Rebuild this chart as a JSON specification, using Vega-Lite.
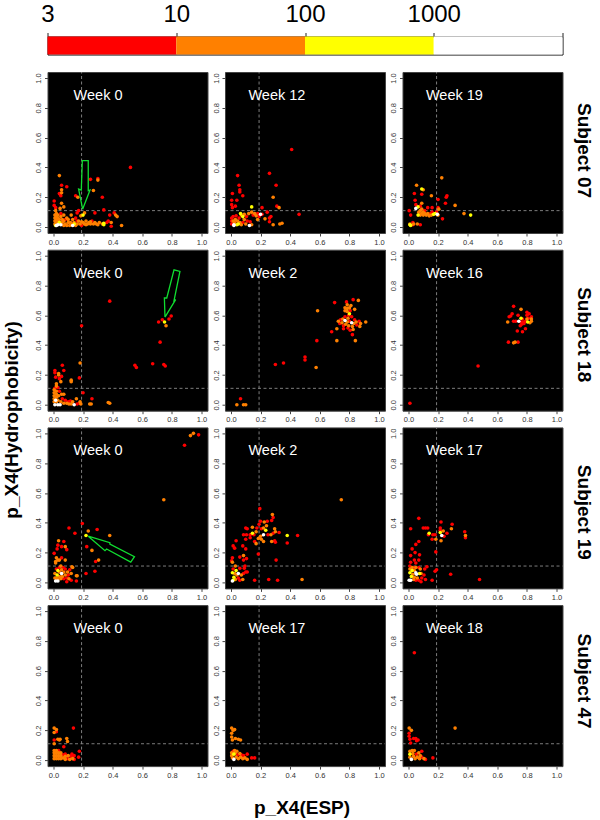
{"$schema":"https://vega.github.io/schema/vega-lite/v6.json","background":"white","padding":{"left":1.5,"top":1.5,"right":0,"bottom":0},"bounds":"flush","spacing":17.5,
"config":{"view":{"fill":"black","stroke":"#444","strokeWidth":1},"axis":{"grid":false,"domain":false,"tickSize":3,"tickColor":"#444","labelColor":"#333","labelFont":"Liberation Sans","labelFontSize":7.5,"labelPadding":2,"labelFlush":false,"labelOverlap":false},"text":{"font":"Liberation Sans"}},
"datasets":{
"guides":[{"x":0.19,"y":-0.04,"g":"v"},{"x":0.19,"y":1.04,"g":"v"},{"x":-0.04,"y":0.11,"g":"h"},{"x":1.04,"y":0.11,"g":"h"}],
"a1":[{"x":0.52,"y":0.4,"c":1},{"x":0.25,"y":0.32,"c":1},{"x":0.3,"y":0.325,"c":1},{"x":0.3,"y":0.315,"c":2},{"x":0.04,"y":0.345,"c":2},{"x":0.055,"y":0.28,"c":1},{"x":0.09,"y":0.27,"c":1},{"x":0.055,"y":0.25,"c":2},{"x":0.055,"y":0.23,"c":2},{"x":0.04,"y":0.225,"c":1},{"x":0.05,"y":0.21,"c":1},{"x":0.045,"y":0.22,"c":1},{"x":0.15,"y":0.21,"c":1},{"x":0.165,"y":0.2,"c":2},{"x":0.27,"y":0.245,"c":2},{"x":0.33,"y":0.2,"c":1},{"x":0.005,"y":0.175,"c":1},{"x":0.005,"y":0.145,"c":1},{"x":0.015,"y":0.13,"c":1},{"x":0.055,"y":0.16,"c":2},{"x":0.045,"y":0.125,"c":2},{"x":0.07,"y":0.135,"c":2},{"x":0.015,"y":0.11,"c":2},{"x":0.34,"y":0.115,"c":1},{"x":0.41,"y":0.095,"c":1},{"x":0.42,"y":0.08,"c":2},{"x":0.43,"y":0.07,"c":2},{"x":0.38,"y":0.08,"c":1},{"x":0.37,"y":0.04,"c":1},{"x":0.36,"y":0.03,"c":1},{"x":0.39,"y":0.03,"c":2},{"x":0.39,"y":0.005,"c":1},{"x":0.46,"y":0.01,"c":2},{"x":0.28,"y":0.095,"c":1},{"x":0.17,"y":0.11,"c":1},{"x":0.16,"y":0.095,"c":1},{"x":0.2,"y":0.08,"c":3},{"x":0.21,"y":0.095,"c":2},{"x":0.185,"y":0.075,"c":2},{"x":0.01,"y":0.02,"c":2},{"x":0.01,"y":0.04,"c":2},{"x":0.01,"y":0.06,"c":2},{"x":0.01,"y":0.08,"c":2},{"x":0.02,"y":0.03,"c":2},{"x":0.02,"y":0.05,"c":2},{"x":0.02,"y":0.07,"c":2},{"x":0.02,"y":0.09,"c":2},{"x":0.03,"y":0.02,"c":2},{"x":0.03,"y":0.04,"c":2},{"x":0.03,"y":0.06,"c":2},{"x":0.03,"y":0.08,"c":2},{"x":0.04,"y":0.03,"c":2},{"x":0.04,"y":0.05,"c":2},{"x":0.05,"y":0.02,"c":2},{"x":0.05,"y":0.07,"c":2},{"x":0.05,"y":0.09,"c":1},{"x":0.06,"y":0.03,"c":2},{"x":0.06,"y":0.05,"c":2},{"x":0.07,"y":0.08,"c":2},{"x":0.07,"y":0.01,"c":2},{"x":0.08,"y":0.02,"c":2},{"x":0.08,"y":0.05,"c":1},{"x":0.09,"y":0.06,"c":2},{"x":0.09,"y":0.01,"c":2},{"x":0.1,"y":0.03,"c":2},{"x":0.11,"y":0.01,"c":2},{"x":0.12,"y":0.08,"c":2},{"x":0.13,"y":0.02,"c":1},{"x":0.13,"y":0.05,"c":2},{"x":0.14,"y":0.03,"c":2},{"x":0.15,"y":0.01,"c":2},{"x":0.15,"y":0.06,"c":1},{"x":0.16,"y":0.02,"c":2},{"x":0.17,"y":0.04,"c":2},{"x":0.18,"y":0.02,"c":2},{"x":0.19,"y":0.01,"c":1},{"x":0.2,"y":0.03,"c":2},{"x":0.21,"y":0.02,"c":2},{"x":0.22,"y":0.04,"c":2},{"x":0.23,"y":0.02,"c":2},{"x":0.24,"y":0.03,"c":2},{"x":0.25,"y":0.02,"c":2},{"x":0.26,"y":0.04,"c":1},{"x":0.27,"y":0.02,"c":2},{"x":0.28,"y":0.03,"c":2},{"x":0.29,"y":0.02,"c":2},{"x":0.31,"y":0.03,"c":2},{"x":0.33,"y":0.02,"c":2},{"x":0.34,"y":0.015,"c":3},{"x":0.34,"y":0.025,"c":3},{"x":0.015,"y":0.01,"c":3},{"x":0.03,"y":0.015,"c":4},{"x":0.02,"y":0.01,"c":4},{"x":0.05,"y":0.015,"c":4},{"x":0.13,"y":0.01,"c":4},{"x":0.04,"y":0.03,"c":3},{"x":0.14,"y":0.02,"c":3},{"x":0.07,"y":0.04,"c":2},{"x":0.1,"y":0.05,"c":2},{"x":0.115,"y":0.03,"c":2},{"x":0.12,"y":0.015,"c":2},{"x":0.16,"y":0.04,"c":1},{"x":0.19,"y":0.035,"c":2},{"x":0.22,"y":0.015,"c":2},{"x":0.25,"y":0.035,"c":2},{"x":0.3,"y":0.015,"c":2}],
"a2":[{"x":0.41,"y":0.52,"c":1},{"x":0.045,"y":0.345,"c":1},{"x":0.26,"y":0.36,"c":1},{"x":0.305,"y":0.28,"c":1},{"x":0.055,"y":0.28,"c":1},{"x":0.06,"y":0.25,"c":1},{"x":0.06,"y":0.235,"c":1},{"x":0.01,"y":0.225,"c":1},{"x":0.08,"y":0.21,"c":1},{"x":0.04,"y":0.18,"c":1},{"x":0.005,"y":0.18,"c":1},{"x":0.005,"y":0.15,"c":1},{"x":0.01,"y":0.13,"c":1},{"x":0.03,"y":0.14,"c":1},{"x":0.285,"y":0.2,"c":2},{"x":0.31,"y":0.14,"c":1},{"x":0.325,"y":0.13,"c":2},{"x":0.46,"y":0.085,"c":1},{"x":0.21,"y":0.13,"c":1},{"x":0.14,"y":0.135,"c":3},{"x":0.245,"y":0.1,"c":1},{"x":0.2,"y":0.085,"c":4},{"x":0.065,"y":0.09,"c":3},{"x":0.08,"y":0.07,"c":3},{"x":0.07,"y":0.08,"c":2},{"x":0.23,"y":0.055,"c":2},{"x":0.26,"y":0.06,"c":1},{"x":0.27,"y":0.07,"c":1},{"x":0.26,"y":0.035,"c":1},{"x":0.285,"y":0.015,"c":2},{"x":0.33,"y":0.02,"c":2},{"x":0.345,"y":0.025,"c":2},{"x":0.125,"y":0.01,"c":4},{"x":0.02,"y":0.01,"c":4},{"x":0.02,"y":0.015,"c":4},{"x":0.04,"y":0.015,"c":3},{"x":0.05,"y":0.02,"c":3},{"x":0.005,"y":0.02,"c":1},{"x":0.005,"y":0.04,"c":1},{"x":0.005,"y":0.06,"c":1},{"x":0.015,"y":0.04,"c":2},{"x":0.015,"y":0.07,"c":1},{"x":0.025,"y":0.03,"c":2},{"x":0.03,"y":0.05,"c":2},{"x":0.035,"y":0.075,"c":1},{"x":0.045,"y":0.04,"c":2},{"x":0.055,"y":0.06,"c":1},{"x":0.06,"y":0.03,"c":2},{"x":0.07,"y":0.015,"c":2},{"x":0.08,"y":0.03,"c":1},{"x":0.09,"y":0.05,"c":2},{"x":0.09,"y":0.085,"c":2},{"x":0.1,"y":0.02,"c":2},{"x":0.105,"y":0.07,"c":1},{"x":0.11,"y":0.04,"c":1},{"x":0.12,"y":0.09,"c":2},{"x":0.13,"y":0.035,"c":1},{"x":0.14,"y":0.015,"c":2},{"x":0.14,"y":0.1,"c":2},{"x":0.15,"y":0.08,"c":1},{"x":0.16,"y":0.09,"c":2},{"x":0.17,"y":0.075,"c":2},{"x":0.18,"y":0.09,"c":1},{"x":0.18,"y":0.05,"c":2},{"x":0.19,"y":0.07,"c":1},{"x":0.21,"y":0.085,"c":1}],
"a3":[{"x":0.225,"y":0.33,"c":2},{"x":0.055,"y":0.28,"c":2},{"x":0.09,"y":0.255,"c":3},{"x":0.1,"y":0.25,"c":2},{"x":0.04,"y":0.225,"c":1},{"x":0.09,"y":0.22,"c":1},{"x":0.155,"y":0.21,"c":2},{"x":0.26,"y":0.21,"c":1},{"x":0.255,"y":0.2,"c":1},{"x":0.045,"y":0.18,"c":1},{"x":0.2,"y":0.185,"c":1},{"x":0.09,"y":0.16,"c":2},{"x":0.05,"y":0.15,"c":1},{"x":0.25,"y":0.16,"c":1},{"x":0.315,"y":0.145,"c":2},{"x":0.08,"y":0.14,"c":1},{"x":0.05,"y":0.125,"c":4},{"x":0.065,"y":0.135,"c":3},{"x":0.13,"y":0.13,"c":1},{"x":0.16,"y":0.13,"c":1},{"x":0.2,"y":0.13,"c":1},{"x":0.205,"y":0.12,"c":2},{"x":0.375,"y":0.09,"c":2},{"x":0.42,"y":0.08,"c":3},{"x":0.195,"y":0.085,"c":4},{"x":0.23,"y":0.055,"c":1},{"x":0.005,"y":0.11,"c":1},{"x":0.015,"y":0.08,"c":1},{"x":0.065,"y":0.08,"c":3},{"x":0.18,"y":0.09,"c":3},{"x":0.17,"y":0.085,"c":3},{"x":0.01,"y":0.015,"c":3},{"x":0.015,"y":0.01,"c":3},{"x":0.01,"y":0.02,"c":2},{"x":0.03,"y":0.03,"c":1},{"x":0.035,"y":0.02,"c":2},{"x":0.06,"y":0.02,"c":2},{"x":0.08,"y":0.015,"c":1},{"x":0.03,"y":0.015,"c":1},{"x":0.07,"y":0.1,"c":2},{"x":0.08,"y":0.08,"c":2},{"x":0.08,"y":0.11,"c":2},{"x":0.09,"y":0.09,"c":2},{"x":0.09,"y":0.12,"c":2},{"x":0.1,"y":0.08,"c":2},{"x":0.1,"y":0.1,"c":2},{"x":0.11,"y":0.09,"c":2},{"x":0.11,"y":0.11,"c":1},{"x":0.12,"y":0.08,"c":2},{"x":0.13,"y":0.09,"c":2},{"x":0.14,"y":0.075,"c":2},{"x":0.15,"y":0.09,"c":1},{"x":0.155,"y":0.08,"c":2},{"x":0.16,"y":0.1,"c":1},{"x":0.19,"y":0.1,"c":1},{"x":0.2,"y":0.08,"c":2}],
"b1":[{"x":0.38,"y":0.695,"c":1},{"x":0.19,"y":0.53,"c":1},{"x":0.795,"y":0.595,"c":1},{"x":0.78,"y":0.575,"c":1},{"x":0.735,"y":0.57,"c":1},{"x":0.71,"y":0.555,"c":1},{"x":0.75,"y":0.555,"c":3},{"x":0.76,"y":0.53,"c":2},{"x":0.72,"y":0.42,"c":1},{"x":0.55,"y":0.265,"c":1},{"x":0.56,"y":0.25,"c":1},{"x":0.67,"y":0.275,"c":1},{"x":0.745,"y":0.27,"c":1},{"x":0.755,"y":0.26,"c":1},{"x":0.18,"y":0.28,"c":2},{"x":0.06,"y":0.265,"c":1},{"x":0.07,"y":0.23,"c":1},{"x":0.01,"y":0.23,"c":1},{"x":0.01,"y":0.215,"c":1},{"x":0.035,"y":0.21,"c":2},{"x":0.035,"y":0.2,"c":2},{"x":0.015,"y":0.185,"c":1},{"x":0.04,"y":0.175,"c":1},{"x":0.055,"y":0.19,"c":1},{"x":0.175,"y":0.18,"c":1},{"x":0.12,"y":0.165,"c":2},{"x":0.12,"y":0.155,"c":2},{"x":0.05,"y":0.155,"c":2},{"x":0.02,"y":0.14,"c":2},{"x":0.02,"y":0.125,"c":2},{"x":0.2,"y":0.08,"c":1},{"x":0.01,"y":0.11,"c":1},{"x":0.03,"y":0.115,"c":1},{"x":0.26,"y":0.04,"c":1},{"x":0.255,"y":0.005,"c":2},{"x":0.245,"y":0.005,"c":2},{"x":0.37,"y":0.015,"c":2},{"x":0.38,"y":0.01,"c":2},{"x":0.005,"y":0.02,"c":2},{"x":0.005,"y":0.04,"c":2},{"x":0.005,"y":0.06,"c":2},{"x":0.005,"y":0.08,"c":2},{"x":0.005,"y":0.1,"c":2},{"x":0.02,"y":0.02,"c":2},{"x":0.02,"y":0.05,"c":2},{"x":0.02,"y":0.07,"c":2},{"x":0.02,"y":0.09,"c":2},{"x":0.03,"y":0.03,"c":2},{"x":0.035,"y":0.06,"c":2},{"x":0.04,"y":0.09,"c":1},{"x":0.05,"y":0.02,"c":2},{"x":0.055,"y":0.07,"c":2},{"x":0.06,"y":0.04,"c":1},{"x":0.07,"y":0.01,"c":2},{"x":0.07,"y":0.07,"c":2},{"x":0.08,"y":0.03,"c":1},{"x":0.09,"y":0.01,"c":2},{"x":0.1,"y":0.02,"c":1},{"x":0.105,"y":0.005,"c":2},{"x":0.115,"y":0.025,"c":1},{"x":0.12,"y":0.005,"c":2},{"x":0.13,"y":0.02,"c":2},{"x":0.155,"y":0.04,"c":2},{"x":0.16,"y":0.005,"c":1},{"x":0.175,"y":0.01,"c":1},{"x":0.18,"y":0.02,"c":2},{"x":0.185,"y":0.005,"c":2},{"x":0.01,"y":0.0,"c":4},{"x":0.03,"y":0.0,"c":4},{"x":0.045,"y":0.0,"c":4},{"x":0.14,"y":0.0,"c":4},{"x":0.015,"y":0.03,"c":4}],
"b2":[{"x":0.04,"y":0.0,"c":2},{"x":0.065,"y":0.04,"c":1},{"x":0.085,"y":0.0,"c":2},{"x":0.1,"y":0.0,"c":2},{"x":0.3,"y":0.27,"c":1},{"x":0.355,"y":0.28,"c":1},{"x":0.5,"y":0.32,"c":1},{"x":0.5,"y":0.3,"c":1},{"x":0.575,"y":0.25,"c":2},{"x":0.58,"y":0.43,"c":1},{"x":0.585,"y":0.63,"c":2},{"x":0.715,"y":0.43,"c":2},{"x":0.715,"y":0.51,"c":2},{"x":0.68,"y":0.49,"c":1},{"x":0.7,"y":0.685,"c":1},{"x":0.825,"y":0.705,"c":1},{"x":0.86,"y":0.7,"c":2},{"x":0.84,"y":0.43,"c":2},{"x":0.82,"y":0.47,"c":1},{"x":0.91,"y":0.555,"c":2},{"x":0.78,"y":0.69,"c":1},{"x":0.785,"y":0.67,"c":2},{"x":0.81,"y":0.665,"c":2},{"x":0.77,"y":0.65,"c":2},{"x":0.785,"y":0.645,"c":2},{"x":0.8,"y":0.65,"c":2},{"x":0.835,"y":0.64,"c":2},{"x":0.77,"y":0.63,"c":2},{"x":0.785,"y":0.625,"c":2},{"x":0.805,"y":0.63,"c":1},{"x":0.795,"y":0.6,"c":1},{"x":0.8,"y":0.61,"c":3},{"x":0.815,"y":0.59,"c":1},{"x":0.77,"y":0.59,"c":1},{"x":0.79,"y":0.58,"c":2},{"x":0.74,"y":0.57,"c":1},{"x":0.725,"y":0.56,"c":2},{"x":0.735,"y":0.545,"c":1},{"x":0.75,"y":0.55,"c":2},{"x":0.755,"y":0.575,"c":2},{"x":0.76,"y":0.53,"c":1},{"x":0.775,"y":0.54,"c":2},{"x":0.785,"y":0.555,"c":2},{"x":0.795,"y":0.53,"c":2},{"x":0.8,"y":0.56,"c":1},{"x":0.805,"y":0.5,"c":1},{"x":0.79,"y":0.515,"c":1},{"x":0.82,"y":0.525,"c":2},{"x":0.825,"y":0.505,"c":2},{"x":0.835,"y":0.57,"c":1},{"x":0.83,"y":0.545,"c":2},{"x":0.845,"y":0.555,"c":2},{"x":0.85,"y":0.535,"c":1},{"x":0.865,"y":0.56,"c":1},{"x":0.875,"y":0.545,"c":2},{"x":0.87,"y":0.525,"c":2},{"x":0.76,"y":0.51,"c":1},{"x":0.77,"y":0.565,"c":4},{"x":0.815,"y":0.55,"c":4}],
"b3":[{"x":0.01,"y":0.01,"c":1},{"x":0.47,"y":0.26,"c":1},{"x":0.71,"y":0.66,"c":1},{"x":0.76,"y":0.64,"c":2},{"x":0.68,"y":0.59,"c":1},{"x":0.69,"y":0.595,"c":1},{"x":0.7,"y":0.61,"c":1},{"x":0.74,"y":0.6,"c":1},{"x":0.8,"y":0.62,"c":1},{"x":0.815,"y":0.61,"c":1},{"x":0.8,"y":0.6,"c":1},{"x":0.67,"y":0.555,"c":2},{"x":0.71,"y":0.56,"c":1},{"x":0.725,"y":0.56,"c":1},{"x":0.745,"y":0.56,"c":4},{"x":0.76,"y":0.58,"c":3},{"x":0.77,"y":0.575,"c":1},{"x":0.775,"y":0.555,"c":1},{"x":0.765,"y":0.54,"c":1},{"x":0.755,"y":0.53,"c":1},{"x":0.78,"y":0.545,"c":1},{"x":0.805,"y":0.555,"c":3},{"x":0.8,"y":0.575,"c":2},{"x":0.81,"y":0.58,"c":1},{"x":0.83,"y":0.59,"c":1},{"x":0.83,"y":0.575,"c":2},{"x":0.83,"y":0.56,"c":2},{"x":0.82,"y":0.55,"c":2},{"x":0.79,"y":0.51,"c":1},{"x":0.77,"y":0.49,"c":1},{"x":0.735,"y":0.495,"c":1},{"x":0.675,"y":0.42,"c":1},{"x":0.71,"y":0.415,"c":2},{"x":0.72,"y":0.42,"c":2},{"x":0.74,"y":0.42,"c":1},{"x":0.79,"y":0.56,"c":1},{"x":0.76,"y":0.555,"c":1}],
"c1":[{"x":0.885,"y":0.92,"c":1},{"x":0.925,"y":0.985,"c":2},{"x":0.945,"y":1.0,"c":2},{"x":0.98,"y":0.99,"c":1},{"x":0.745,"y":0.555,"c":2},{"x":0.195,"y":0.395,"c":1},{"x":0.105,"y":0.365,"c":1},{"x":0.295,"y":0.355,"c":1},{"x":0.145,"y":0.33,"c":1},{"x":0.235,"y":0.345,"c":2},{"x":0.38,"y":0.315,"c":2},{"x":0.22,"y":0.315,"c":3},{"x":0.035,"y":0.28,"c":2},{"x":0.07,"y":0.275,"c":1},{"x":0.03,"y":0.25,"c":1},{"x":0.055,"y":0.24,"c":1},{"x":0.08,"y":0.24,"c":2},{"x":0.025,"y":0.225,"c":1},{"x":0.09,"y":0.22,"c":1},{"x":0.225,"y":0.24,"c":1},{"x":0.26,"y":0.215,"c":2},{"x":0.005,"y":0.195,"c":1},{"x":0.03,"y":0.15,"c":2},{"x":0.02,"y":0.165,"c":2},{"x":0.015,"y":0.14,"c":2},{"x":0.015,"y":0.13,"c":2},{"x":0.08,"y":0.15,"c":2},{"x":0.055,"y":0.165,"c":1},{"x":0.04,"y":0.15,"c":2},{"x":0.305,"y":0.15,"c":2},{"x":0.285,"y":0.14,"c":1},{"x":0.125,"y":0.105,"c":2},{"x":0.13,"y":0.1,"c":2},{"x":0.28,"y":0.075,"c":1},{"x":0.22,"y":0.06,"c":1},{"x":0.155,"y":0.045,"c":2},{"x":0.16,"y":0.045,"c":2},{"x":0.12,"y":0.015,"c":1},{"x":0.155,"y":0.01,"c":1},{"x":0.01,"y":0.03,"c":2},{"x":0.01,"y":0.06,"c":2},{"x":0.02,"y":0.09,"c":1},{"x":0.02,"y":0.03,"c":2},{"x":0.03,"y":0.08,"c":3},{"x":0.025,"y":0.05,"c":3},{"x":0.03,"y":0.02,"c":2},{"x":0.04,"y":0.1,"c":1},{"x":0.04,"y":0.07,"c":2},{"x":0.04,"y":0.04,"c":2},{"x":0.05,"y":0.025,"c":2},{"x":0.05,"y":0.11,"c":2},{"x":0.055,"y":0.085,"c":2},{"x":0.06,"y":0.04,"c":2},{"x":0.065,"y":0.1,"c":1},{"x":0.07,"y":0.07,"c":2},{"x":0.07,"y":0.025,"c":1},{"x":0.08,"y":0.05,"c":2},{"x":0.08,"y":0.09,"c":1},{"x":0.09,"y":0.03,"c":1},{"x":0.09,"y":0.005,"c":1},{"x":0.095,"y":0.07,"c":2},{"x":0.1,"y":0.05,"c":1},{"x":0.105,"y":0.025,"c":2},{"x":0.11,"y":0.085,"c":1},{"x":0.12,"y":0.06,"c":2},{"x":0.015,"y":0.01,"c":4},{"x":0.03,"y":0.01,"c":4},{"x":0.055,"y":0.06,"c":4}],
"c2":[{"x":0.745,"y":0.555,"c":2},{"x":0.195,"y":0.495,"c":1},{"x":0.28,"y":0.455,"c":2},{"x":0.285,"y":0.435,"c":1},{"x":0.2,"y":0.41,"c":1},{"x":0.225,"y":0.405,"c":2},{"x":0.245,"y":0.41,"c":1},{"x":0.275,"y":0.415,"c":1},{"x":0.19,"y":0.39,"c":1},{"x":0.24,"y":0.38,"c":2},{"x":0.22,"y":0.365,"c":2},{"x":0.205,"y":0.36,"c":1},{"x":0.1,"y":0.365,"c":1},{"x":0.11,"y":0.36,"c":1},{"x":0.145,"y":0.37,"c":2},{"x":0.175,"y":0.365,"c":1},{"x":0.295,"y":0.36,"c":2},{"x":0.3,"y":0.34,"c":2},{"x":0.325,"y":0.335,"c":1},{"x":0.235,"y":0.35,"c":3},{"x":0.145,"y":0.33,"c":3},{"x":0.17,"y":0.34,"c":2},{"x":0.155,"y":0.32,"c":1},{"x":0.13,"y":0.32,"c":1},{"x":0.13,"y":0.3,"c":1},{"x":0.085,"y":0.32,"c":1},{"x":0.105,"y":0.32,"c":1},{"x":0.035,"y":0.28,"c":1},{"x":0.1,"y":0.29,"c":1},{"x":0.22,"y":0.32,"c":4},{"x":0.2,"y":0.31,"c":2},{"x":0.185,"y":0.295,"c":2},{"x":0.205,"y":0.29,"c":2},{"x":0.22,"y":0.275,"c":2},{"x":0.17,"y":0.26,"c":2},{"x":0.16,"y":0.275,"c":1},{"x":0.25,"y":0.32,"c":1},{"x":0.27,"y":0.32,"c":2},{"x":0.285,"y":0.33,"c":1},{"x":0.275,"y":0.275,"c":2},{"x":0.295,"y":0.28,"c":1},{"x":0.3,"y":0.27,"c":1},{"x":0.38,"y":0.315,"c":3},{"x":0.45,"y":0.315,"c":1},{"x":0.38,"y":0.265,"c":1},{"x":0.305,"y":0.15,"c":1},{"x":0.185,"y":0.19,"c":1},{"x":0.015,"y":0.245,"c":1},{"x":0.025,"y":0.23,"c":1},{"x":0.08,"y":0.245,"c":1},{"x":0.1,"y":0.225,"c":1},{"x":0.085,"y":0.18,"c":2},{"x":0.06,"y":0.17,"c":1},{"x":0.105,"y":0.16,"c":1},{"x":0.085,"y":0.15,"c":1},{"x":0.01,"y":0.165,"c":1},{"x":0.005,"y":0.145,"c":1},{"x":0.01,"y":0.135,"c":2},{"x":0.095,"y":0.11,"c":1},{"x":0.06,"y":0.095,"c":1},{"x":0.09,"y":0.095,"c":1},{"x":0.03,"y":0.11,"c":2},{"x":0.015,"y":0.09,"c":1},{"x":0.035,"y":0.08,"c":3},{"x":0.01,"y":0.065,"c":3},{"x":0.025,"y":0.06,"c":2},{"x":0.04,"y":0.05,"c":2},{"x":0.02,"y":0.035,"c":3},{"x":0.015,"y":0.015,"c":3},{"x":0.03,"y":0.02,"c":2},{"x":0.01,"y":0.01,"c":4},{"x":0.05,"y":0.06,"c":4},{"x":0.05,"y":0.03,"c":1},{"x":0.06,"y":0.015,"c":1},{"x":0.07,"y":0.05,"c":2},{"x":0.08,"y":0.02,"c":2},{"x":0.085,"y":0.06,"c":1},{"x":0.1,"y":0.07,"c":1},{"x":0.11,"y":0.07,"c":1},{"x":0.16,"y":0.015,"c":1},{"x":0.255,"y":0.02,"c":1},{"x":0.315,"y":0.015,"c":1},{"x":0.48,"y":0.02,"c":2}],
"c3":[{"x":0.07,"y":0.43,"c":1},{"x":0.015,"y":0.36,"c":1},{"x":0.22,"y":0.405,"c":1},{"x":0.295,"y":0.39,"c":1},{"x":0.1,"y":0.365,"c":1},{"x":0.115,"y":0.365,"c":1},{"x":0.13,"y":0.365,"c":1},{"x":0.215,"y":0.365,"c":1},{"x":0.215,"y":0.35,"c":1},{"x":0.235,"y":0.345,"c":2},{"x":0.29,"y":0.36,"c":2},{"x":0.38,"y":0.34,"c":1},{"x":0.385,"y":0.315,"c":2},{"x":0.385,"y":0.3,"c":1},{"x":0.14,"y":0.33,"c":3},{"x":0.135,"y":0.32,"c":1},{"x":0.215,"y":0.335,"c":3},{"x":0.225,"y":0.315,"c":4},{"x":0.24,"y":0.31,"c":1},{"x":0.26,"y":0.33,"c":1},{"x":0.165,"y":0.32,"c":1},{"x":0.18,"y":0.32,"c":1},{"x":0.16,"y":0.29,"c":1},{"x":0.185,"y":0.29,"c":2},{"x":0.22,"y":0.28,"c":2},{"x":0.07,"y":0.275,"c":1},{"x":0.05,"y":0.255,"c":1},{"x":0.025,"y":0.225,"c":1},{"x":0.045,"y":0.2,"c":1},{"x":0.185,"y":0.205,"c":1},{"x":0.075,"y":0.185,"c":1},{"x":0.015,"y":0.18,"c":1},{"x":0.07,"y":0.15,"c":1},{"x":0.04,"y":0.15,"c":1},{"x":0.015,"y":0.135,"c":1},{"x":0.05,"y":0.13,"c":1},{"x":0.125,"y":0.105,"c":1},{"x":0.19,"y":0.085,"c":1},{"x":0.18,"y":0.075,"c":1},{"x":0.285,"y":0.055,"c":1},{"x":0.48,"y":0.02,"c":1},{"x":0.11,"y":0.09,"c":1},{"x":0.105,"y":0.05,"c":1},{"x":0.115,"y":0.02,"c":1},{"x":0.16,"y":0.015,"c":1},{"x":0.01,"y":0.11,"c":1},{"x":0.01,"y":0.09,"c":2},{"x":0.01,"y":0.065,"c":3},{"x":0.025,"y":0.1,"c":2},{"x":0.025,"y":0.08,"c":3},{"x":0.03,"y":0.055,"c":2},{"x":0.02,"y":0.04,"c":3},{"x":0.04,"y":0.1,"c":1},{"x":0.04,"y":0.08,"c":2},{"x":0.04,"y":0.035,"c":2},{"x":0.035,"y":0.02,"c":2},{"x":0.05,"y":0.1,"c":2},{"x":0.05,"y":0.015,"c":1},{"x":0.06,"y":0.03,"c":2},{"x":0.07,"y":0.1,"c":1},{"x":0.075,"y":0.06,"c":3},{"x":0.085,"y":0.06,"c":2},{"x":0.08,"y":0.09,"c":2},{"x":0.07,"y":0.015,"c":1},{"x":0.085,"y":0.005,"c":1},{"x":0.09,"y":0.03,"c":1},{"x":0.015,"y":0.015,"c":4},{"x":0.005,"y":0.015,"c":4},{"x":0.05,"y":0.065,"c":4},{"x":0.055,"y":0.055,"c":4}],
"d1":[{"x":0.005,"y":0.215,"c":2},{"x":0.02,"y":0.205,"c":2},{"x":0.02,"y":0.19,"c":1},{"x":0.135,"y":0.215,"c":1},{"x":0.005,"y":0.185,"c":2},{"x":0.03,"y":0.14,"c":2},{"x":0.04,"y":0.135,"c":2},{"x":0.045,"y":0.14,"c":2},{"x":0.09,"y":0.145,"c":2},{"x":0.095,"y":0.125,"c":2},{"x":0.005,"y":0.135,"c":1},{"x":0.005,"y":0.11,"c":2},{"x":0.07,"y":0.09,"c":1},{"x":0.175,"y":0.06,"c":1},{"x":0.17,"y":0.02,"c":1},{"x":0.005,"y":0.01,"c":2},{"x":0.005,"y":0.03,"c":2},{"x":0.005,"y":0.05,"c":2},{"x":0.005,"y":0.065,"c":2},{"x":0.02,"y":0.01,"c":2},{"x":0.02,"y":0.03,"c":2},{"x":0.02,"y":0.05,"c":2},{"x":0.02,"y":0.065,"c":2},{"x":0.035,"y":0.01,"c":2},{"x":0.035,"y":0.03,"c":2},{"x":0.035,"y":0.05,"c":2},{"x":0.035,"y":0.065,"c":1},{"x":0.05,"y":0.01,"c":2},{"x":0.05,"y":0.03,"c":2},{"x":0.05,"y":0.05,"c":2},{"x":0.065,"y":0.015,"c":2},{"x":0.065,"y":0.035,"c":1},{"x":0.08,"y":0.005,"c":2},{"x":0.08,"y":0.025,"c":2},{"x":0.08,"y":0.04,"c":1},{"x":0.095,"y":0.01,"c":1},{"x":0.1,"y":0.03,"c":2},{"x":0.11,"y":0.005,"c":2},{"x":0.12,"y":0.025,"c":1},{"x":0.125,"y":0.04,"c":1},{"x":0.13,"y":0.01,"c":2},{"x":0.14,"y":0.03,"c":1},{"x":0.14,"y":0.005,"c":1}],
"d2":[{"x":0.005,"y":0.215,"c":2},{"x":0.015,"y":0.2,"c":2},{"x":0.025,"y":0.205,"c":2},{"x":0.005,"y":0.18,"c":2},{"x":0.005,"y":0.155,"c":2},{"x":0.01,"y":0.135,"c":2},{"x":0.03,"y":0.145,"c":2},{"x":0.05,"y":0.14,"c":2},{"x":0.065,"y":0.135,"c":2},{"x":0.16,"y":0.015,"c":1},{"x":0.14,"y":0.015,"c":1},{"x":0.11,"y":0.04,"c":1},{"x":0.11,"y":0.005,"c":2},{"x":0.005,"y":0.03,"c":2},{"x":0.005,"y":0.05,"c":2},{"x":0.015,"y":0.06,"c":1},{"x":0.02,"y":0.04,"c":3},{"x":0.025,"y":0.065,"c":2},{"x":0.03,"y":0.05,"c":2},{"x":0.035,"y":0.02,"c":2},{"x":0.04,"y":0.06,"c":2},{"x":0.045,"y":0.035,"c":1},{"x":0.05,"y":0.01,"c":2},{"x":0.06,"y":0.045,"c":2},{"x":0.065,"y":0.02,"c":2},{"x":0.07,"y":0.035,"c":1},{"x":0.08,"y":0.01,"c":2},{"x":0.085,"y":0.03,"c":1},{"x":0.095,"y":0.015,"c":2},{"x":0.01,"y":0.015,"c":2},{"x":0.02,"y":0.005,"c":4}],
"d3":[{"x":0.04,"y":0.72,"c":1},{"x":0.315,"y":0.215,"c":2},{"x":0.005,"y":0.215,"c":2},{"x":0.02,"y":0.2,"c":2},{"x":0.005,"y":0.18,"c":1},{"x":0.005,"y":0.16,"c":1},{"x":0.01,"y":0.14,"c":1},{"x":0.015,"y":0.115,"c":1},{"x":0.035,"y":0.145,"c":1},{"x":0.05,"y":0.145,"c":1},{"x":0.055,"y":0.13,"c":1},{"x":0.065,"y":0.135,"c":1},{"x":0.165,"y":0.015,"c":1},{"x":0.09,"y":0.06,"c":1},{"x":0.08,"y":0.03,"c":2},{"x":0.105,"y":0.01,"c":2},{"x":0.115,"y":0.005,"c":1},{"x":0.01,"y":0.06,"c":2},{"x":0.01,"y":0.04,"c":3},{"x":0.01,"y":0.02,"c":2},{"x":0.025,"y":0.065,"c":2},{"x":0.03,"y":0.045,"c":2},{"x":0.035,"y":0.025,"c":2},{"x":0.04,"y":0.065,"c":2},{"x":0.045,"y":0.01,"c":2},{"x":0.055,"y":0.04,"c":1},{"x":0.06,"y":0.02,"c":2},{"x":0.07,"y":0.05,"c":2},{"x":0.075,"y":0.01,"c":2},{"x":0.09,"y":0.02,"c":1},{"x":0.02,"y":0.005,"c":4}]
},
"vconcat":[
{"width":515,"height":18,"view":{"fill":null,"stroke":"black"},"data":{"values":[{"lo":0,"hi":1,"c":1},{"lo":1,"hi":2,"c":2},{"lo":2,"hi":3,"c":3},{"lo":3,"hi":4,"c":4}]},"mark":"rect","encoding":{"x":{"field":"lo","type":"quantitative","title":null,"scale":{"domain":[0,4],"nice":false},"axis":{"orient":"top","values":[0,1,2,3,4],"labelExpr":"datum.value==0?'3':datum.value==1?'10':datum.value==2?'100':datum.value==3?'1000':''","tickSize":4,"tickColor":"#222","labelColor":"black","labelFontSize":24,"labelPadding":6}},"x2":{"field":"hi"},"color":{"field":"c","type":"nominal","scale":{"domain":[1,2,3,4],"range":["#ff0000","#ff8000","#ffff00","#ffffff"]},"legend":null}}},
{"columns":3,"bounds":"flush","spacing":{"row":16.7,"column":17.5},"resolve":{"scale":{"color":"independent"}},"concat":[
{"width":160,"height":161,"encoding":{"x":{"field":"x","type":"quantitative","title":null,"scale":{"domain":[-0.04,1.04],"nice":false},"axis":{"values":[0,0.2,0.4,0.6,0.8,1],"format":".1f"}},"y":{"field":"y","type":"quantitative","title":null,"scale":{"domain":[-0.04,1.04],"nice":false},"axis":{"values":[0,0.2,0.4,0.6,0.8,1],"format":".1f","labelAngle":-90,"labelAlign":"center","labelBaseline":"bottom"}}},"layer":[
{"data":{"name":"guides"},"mark":{"type":"line","stroke":"#8a8a8a","strokeWidth":0.9,"strokeDash":[3,2.5]},"encoding":{"detail":{"field":"g"}}},
{"data":{"name":"a1"},"mark":{"type":"circle","size":13,"opacity":1},"encoding":{"order":{"field":"c"},"color":{"field":"c","type":"nominal","scale":{"domain":[1,2,3,4],"range":["#ff0000","#ff8000","#ffff00","#ffffff"]},"legend":null}}},
{"data":{"values":[{"x":0.197,"y":0.12,"o":0},{"x":0.247,"y":0.248,"o":1},{"x":0.235,"y":0.244,"o":2},{"x":0.235,"y":0.445,"o":3},{"x":0.195,"y":0.445,"o":4},{"x":0.188,"y":0.248,"o":5},{"x":0.17,"y":0.255,"o":6},{"x":0.197,"y":0.12,"o":7}]},"mark":{"type":"line","stroke":"#10dd30","strokeWidth":1.3},"encoding":{"order":{"field":"o"}}},
{"data":{"values":[{"x":0.136,"y":0.88,"t":"Week 0"}]},"mark":{"type":"text","align":"left","baseline":"middle","fontSize":14.5,"color":"white"},"encoding":{"text":{"field":"t"}}}]},
{"width":160,"height":161,"encoding":{"x":{"field":"x","type":"quantitative","title":null,"scale":{"domain":[-0.04,1.04],"nice":false},"axis":{"values":[0,0.2,0.4,0.6,0.8,1],"format":".1f"}},"y":{"field":"y","type":"quantitative","title":null,"scale":{"domain":[-0.04,1.04],"nice":false},"axis":{"values":[0,0.2,0.4,0.6,0.8,1],"format":".1f","labelAngle":-90,"labelAlign":"center","labelBaseline":"bottom"}}},"layer":[
{"data":{"name":"guides"},"mark":{"type":"line","stroke":"#8a8a8a","strokeWidth":0.9,"strokeDash":[3,2.5]},"encoding":{"detail":{"field":"g"}}},
{"data":{"name":"a2"},"mark":{"type":"circle","size":13,"opacity":1},"encoding":{"order":{"field":"c"},"color":{"field":"c","type":"nominal","scale":{"domain":[1,2,3,4],"range":["#ff0000","#ff8000","#ffff00","#ffffff"]},"legend":null}}},
{"data":{"values":[{"x":0.118,"y":0.88,"t":"Week 12"}]},"mark":{"type":"text","align":"left","baseline":"middle","fontSize":14.5,"color":"white"},"encoding":{"text":{"field":"t"}}}]},
{"width":160,"height":161,"encoding":{"x":{"field":"x","type":"quantitative","title":null,"scale":{"domain":[-0.04,1.04],"nice":false},"axis":{"values":[0,0.2,0.4,0.6,0.8,1],"format":".1f"}},"y":{"field":"y","type":"quantitative","title":null,"scale":{"domain":[-0.04,1.04],"nice":false},"axis":{"values":[0,0.2,0.4,0.6,0.8,1],"format":".1f","labelAngle":-90,"labelAlign":"center","labelBaseline":"bottom"}}},"layer":[
{"data":{"name":"guides"},"mark":{"type":"line","stroke":"#8a8a8a","strokeWidth":0.9,"strokeDash":[3,2.5]},"encoding":{"detail":{"field":"g"}}},
{"data":{"name":"a3"},"mark":{"type":"circle","size":13,"opacity":1},"encoding":{"order":{"field":"c"},"color":{"field":"c","type":"nominal","scale":{"domain":[1,2,3,4],"range":["#ff0000","#ff8000","#ffff00","#ffffff"]},"legend":null}}},
{"data":{"values":[{"x":0.118,"y":0.88,"t":"Week 19"}]},"mark":{"type":"text","align":"left","baseline":"middle","fontSize":14.5,"color":"white"},"encoding":{"text":{"field":"t"}}},
{"data":{"values":[{"x":1.183,"y":0.513,"t":"Subject 07"}]},"mark":{"type":"text","angle":90,"align":"center","baseline":"middle","fontSize":19,"fontWeight":"bold","color":"black"},"encoding":{"text":{"field":"t"}}}]},
{"width":160,"height":161,"encoding":{"x":{"field":"x","type":"quantitative","title":null,"scale":{"domain":[-0.04,1.04],"nice":false},"axis":{"values":[0,0.2,0.4,0.6,0.8,1],"format":".1f"}},"y":{"field":"y","type":"quantitative","title":null,"scale":{"domain":[-0.04,1.04],"nice":false},"axis":{"values":[0,0.2,0.4,0.6,0.8,1],"format":".1f","labelAngle":-90,"labelAlign":"center","labelBaseline":"bottom"}}},"layer":[
{"data":{"name":"guides"},"mark":{"type":"line","stroke":"#8a8a8a","strokeWidth":0.9,"strokeDash":[3,2.5]},"encoding":{"detail":{"field":"g"}}},
{"data":{"name":"b1"},"mark":{"type":"circle","size":13,"opacity":1},"encoding":{"order":{"field":"c"},"color":{"field":"c","type":"nominal","scale":{"domain":[1,2,3,4],"range":["#ff0000","#ff8000","#ffff00","#ffffff"]},"legend":null}}},
{"data":{"values":[{"x":0.753,"y":0.588,"o":0},{"x":0.825,"y":0.705,"o":1},{"x":0.814,"y":0.698,"o":2},{"x":0.854,"y":0.894,"o":3},{"x":0.814,"y":0.905,"o":4},{"x":0.765,"y":0.716,"o":5},{"x":0.749,"y":0.716,"o":6},{"x":0.753,"y":0.588,"o":7}]},"mark":{"type":"line","stroke":"#10dd30","strokeWidth":1.3},"encoding":{"order":{"field":"o"}}},
{"data":{"values":[{"x":0.136,"y":0.88,"t":"Week 0"}]},"mark":{"type":"text","align":"left","baseline":"middle","fontSize":14.5,"color":"white"},"encoding":{"text":{"field":"t"}}},
{"data":{"values":[{"x":-0.283,"y":-0.102,"t":"p_X4(Hydrophobicity)"}]},"mark":{"type":"text","angle":270,"align":"center","baseline":"middle","fontSize":19,"fontWeight":"bold","color":"black"},"encoding":{"text":{"field":"t"}}}]},
{"width":160,"height":161,"encoding":{"x":{"field":"x","type":"quantitative","title":null,"scale":{"domain":[-0.04,1.04],"nice":false},"axis":{"values":[0,0.2,0.4,0.6,0.8,1],"format":".1f"}},"y":{"field":"y","type":"quantitative","title":null,"scale":{"domain":[-0.04,1.04],"nice":false},"axis":{"values":[0,0.2,0.4,0.6,0.8,1],"format":".1f","labelAngle":-90,"labelAlign":"center","labelBaseline":"bottom"}}},"layer":[
{"data":{"name":"guides"},"mark":{"type":"line","stroke":"#8a8a8a","strokeWidth":0.9,"strokeDash":[3,2.5]},"encoding":{"detail":{"field":"g"}}},
{"data":{"name":"b2"},"mark":{"type":"circle","size":13,"opacity":1},"encoding":{"order":{"field":"c"},"color":{"field":"c","type":"nominal","scale":{"domain":[1,2,3,4],"range":["#ff0000","#ff8000","#ffff00","#ffffff"]},"legend":null}}},
{"data":{"values":[{"x":0.118,"y":0.88,"t":"Week 2"}]},"mark":{"type":"text","align":"left","baseline":"middle","fontSize":14.5,"color":"white"},"encoding":{"text":{"field":"t"}}}]},
{"width":160,"height":161,"encoding":{"x":{"field":"x","type":"quantitative","title":null,"scale":{"domain":[-0.04,1.04],"nice":false},"axis":{"values":[0,0.2,0.4,0.6,0.8,1],"format":".1f"}},"y":{"field":"y","type":"quantitative","title":null,"scale":{"domain":[-0.04,1.04],"nice":false},"axis":{"values":[0,0.2,0.4,0.6,0.8,1],"format":".1f","labelAngle":-90,"labelAlign":"center","labelBaseline":"bottom"}}},"layer":[
{"data":{"name":"guides"},"mark":{"type":"line","stroke":"#8a8a8a","strokeWidth":0.9,"strokeDash":[3,2.5]},"encoding":{"detail":{"field":"g"}}},
{"data":{"name":"b3"},"mark":{"type":"circle","size":13,"opacity":1},"encoding":{"order":{"field":"c"},"color":{"field":"c","type":"nominal","scale":{"domain":[1,2,3,4],"range":["#ff0000","#ff8000","#ffff00","#ffffff"]},"legend":null}}},
{"data":{"values":[{"x":0.118,"y":0.88,"t":"Week 16"}]},"mark":{"type":"text","align":"left","baseline":"middle","fontSize":14.5,"color":"white"},"encoding":{"text":{"field":"t"}}},
{"data":{"values":[{"x":1.183,"y":0.47,"t":"Subject 18"}]},"mark":{"type":"text","angle":90,"align":"center","baseline":"middle","fontSize":19,"fontWeight":"bold","color":"black"},"encoding":{"text":{"field":"t"}}}]},
{"width":160,"height":161,"encoding":{"x":{"field":"x","type":"quantitative","title":null,"scale":{"domain":[-0.04,1.04],"nice":false},"axis":{"values":[0,0.2,0.4,0.6,0.8,1],"format":".1f"}},"y":{"field":"y","type":"quantitative","title":null,"scale":{"domain":[-0.04,1.04],"nice":false},"axis":{"values":[0,0.2,0.4,0.6,0.8,1],"format":".1f","labelAngle":-90,"labelAlign":"center","labelBaseline":"bottom"}}},"layer":[
{"data":{"name":"guides"},"mark":{"type":"line","stroke":"#8a8a8a","strokeWidth":0.9,"strokeDash":[3,2.5]},"encoding":{"detail":{"field":"g"}}},
{"data":{"name":"c1"},"mark":{"type":"circle","size":13,"opacity":1},"encoding":{"order":{"field":"c"},"color":{"field":"c","type":"nominal","scale":{"domain":[1,2,3,4],"range":["#ff0000","#ff8000","#ffff00","#ffffff"]},"legend":null}}},
{"data":{"values":[{"x":0.235,"y":0.31,"o":0},{"x":0.381,"y":0.267,"o":1},{"x":0.381,"y":0.257,"o":2},{"x":0.547,"y":0.173,"o":3},{"x":0.522,"y":0.136,"o":4},{"x":0.359,"y":0.224,"o":5},{"x":0.348,"y":0.213,"o":6},{"x":0.235,"y":0.31,"o":7}]},"mark":{"type":"line","stroke":"#10dd30","strokeWidth":1.3},"encoding":{"order":{"field":"o"}}},
{"data":{"values":[{"x":0.136,"y":0.88,"t":"Week 0"}]},"mark":{"type":"text","align":"left","baseline":"middle","fontSize":14.5,"color":"white"},"encoding":{"text":{"field":"t"}}}]},
{"width":160,"height":161,"encoding":{"x":{"field":"x","type":"quantitative","title":null,"scale":{"domain":[-0.04,1.04],"nice":false},"axis":{"values":[0,0.2,0.4,0.6,0.8,1],"format":".1f"}},"y":{"field":"y","type":"quantitative","title":null,"scale":{"domain":[-0.04,1.04],"nice":false},"axis":{"values":[0,0.2,0.4,0.6,0.8,1],"format":".1f","labelAngle":-90,"labelAlign":"center","labelBaseline":"bottom"}}},"layer":[
{"data":{"name":"guides"},"mark":{"type":"line","stroke":"#8a8a8a","strokeWidth":0.9,"strokeDash":[3,2.5]},"encoding":{"detail":{"field":"g"}}},
{"data":{"name":"c2"},"mark":{"type":"circle","size":13,"opacity":1},"encoding":{"order":{"field":"c"},"color":{"field":"c","type":"nominal","scale":{"domain":[1,2,3,4],"range":["#ff0000","#ff8000","#ffff00","#ffffff"]},"legend":null}}},
{"data":{"values":[{"x":0.118,"y":0.88,"t":"Week 2"}]},"mark":{"type":"text","align":"left","baseline":"middle","fontSize":14.5,"color":"white"},"encoding":{"text":{"field":"t"}}}]},
{"width":160,"height":161,"encoding":{"x":{"field":"x","type":"quantitative","title":null,"scale":{"domain":[-0.04,1.04],"nice":false},"axis":{"values":[0,0.2,0.4,0.6,0.8,1],"format":".1f"}},"y":{"field":"y","type":"quantitative","title":null,"scale":{"domain":[-0.04,1.04],"nice":false},"axis":{"values":[0,0.2,0.4,0.6,0.8,1],"format":".1f","labelAngle":-90,"labelAlign":"center","labelBaseline":"bottom"}}},"layer":[
{"data":{"name":"guides"},"mark":{"type":"line","stroke":"#8a8a8a","strokeWidth":0.9,"strokeDash":[3,2.5]},"encoding":{"detail":{"field":"g"}}},
{"data":{"name":"c3"},"mark":{"type":"circle","size":13,"opacity":1},"encoding":{"order":{"field":"c"},"color":{"field":"c","type":"nominal","scale":{"domain":[1,2,3,4],"range":["#ff0000","#ff8000","#ffff00","#ffffff"]},"legend":null}}},
{"data":{"values":[{"x":0.118,"y":0.88,"t":"Week 17"}]},"mark":{"type":"text","align":"left","baseline":"middle","fontSize":14.5,"color":"white"},"encoding":{"text":{"field":"t"}}},
{"data":{"values":[{"x":1.183,"y":0.47,"t":"Subject 19"}]},"mark":{"type":"text","angle":90,"align":"center","baseline":"middle","fontSize":19,"fontWeight":"bold","color":"black"},"encoding":{"text":{"field":"t"}}}]},
{"width":160,"height":161,"encoding":{"x":{"field":"x","type":"quantitative","title":null,"scale":{"domain":[-0.04,1.04],"nice":false},"axis":{"values":[0,0.2,0.4,0.6,0.8,1],"format":".1f"}},"y":{"field":"y","type":"quantitative","title":null,"scale":{"domain":[-0.04,1.04],"nice":false},"axis":{"values":[0,0.2,0.4,0.6,0.8,1],"format":".1f","labelAngle":-90,"labelAlign":"center","labelBaseline":"bottom"}}},"layer":[
{"data":{"name":"guides"},"mark":{"type":"line","stroke":"#8a8a8a","strokeWidth":0.9,"strokeDash":[3,2.5]},"encoding":{"detail":{"field":"g"}}},
{"data":{"name":"d1"},"mark":{"type":"circle","size":13,"opacity":1},"encoding":{"order":{"field":"c"},"color":{"field":"c","type":"nominal","scale":{"domain":[1,2,3,4],"range":["#ff0000","#ff8000","#ffff00","#ffffff"]},"legend":null}}},
{"data":{"values":[{"x":0.136,"y":0.88,"t":"Week 0"}]},"mark":{"type":"text","align":"left","baseline":"middle","fontSize":14.5,"color":"white"},"encoding":{"text":{"field":"t"}}}]},
{"width":160,"height":161,"encoding":{"x":{"field":"x","type":"quantitative","title":null,"scale":{"domain":[-0.04,1.04],"nice":false},"axis":{"values":[0,0.2,0.4,0.6,0.8,1],"format":".1f"}},"y":{"field":"y","type":"quantitative","title":null,"scale":{"domain":[-0.04,1.04],"nice":false},"axis":{"values":[0,0.2,0.4,0.6,0.8,1],"format":".1f","labelAngle":-90,"labelAlign":"center","labelBaseline":"bottom"}}},"layer":[
{"data":{"name":"guides"},"mark":{"type":"line","stroke":"#8a8a8a","strokeWidth":0.9,"strokeDash":[3,2.5]},"encoding":{"detail":{"field":"g"}}},
{"data":{"name":"d2"},"mark":{"type":"circle","size":13,"opacity":1},"encoding":{"order":{"field":"c"},"color":{"field":"c","type":"nominal","scale":{"domain":[1,2,3,4],"range":["#ff0000","#ff8000","#ffff00","#ffffff"]},"legend":null}}},
{"data":{"values":[{"x":0.118,"y":0.88,"t":"Week 17"}]},"mark":{"type":"text","align":"left","baseline":"middle","fontSize":14.5,"color":"white"},"encoding":{"text":{"field":"t"}}},
{"data":{"values":[{"x":0.48,"y":-0.318,"t":"p_X4(ESP)"}]},"mark":{"type":"text","align":"center","baseline":"middle","fontSize":19,"fontWeight":"bold","color":"black"},"encoding":{"text":{"field":"t"}}}]},
{"width":160,"height":161,"encoding":{"x":{"field":"x","type":"quantitative","title":null,"scale":{"domain":[-0.04,1.04],"nice":false},"axis":{"values":[0,0.2,0.4,0.6,0.8,1],"format":".1f"}},"y":{"field":"y","type":"quantitative","title":null,"scale":{"domain":[-0.04,1.04],"nice":false},"axis":{"values":[0,0.2,0.4,0.6,0.8,1],"format":".1f","labelAngle":-90,"labelAlign":"center","labelBaseline":"bottom"}}},"layer":[
{"data":{"name":"guides"},"mark":{"type":"line","stroke":"#8a8a8a","strokeWidth":0.9,"strokeDash":[3,2.5]},"encoding":{"detail":{"field":"g"}}},
{"data":{"name":"d3"},"mark":{"type":"circle","size":13,"opacity":1},"encoding":{"order":{"field":"c"},"color":{"field":"c","type":"nominal","scale":{"domain":[1,2,3,4],"range":["#ff0000","#ff8000","#ffff00","#ffffff"]},"legend":null}}},
{"data":{"values":[{"x":0.118,"y":0.88,"t":"Week 18"}]},"mark":{"type":"text","align":"left","baseline":"middle","fontSize":14.5,"color":"white"},"encoding":{"text":{"field":"t"}}},
{"data":{"values":[{"x":1.183,"y":0.53,"t":"Subject 47"}]},"mark":{"type":"text","angle":90,"align":"center","baseline":"middle","fontSize":19,"fontWeight":"bold","color":"black"},"encoding":{"text":{"field":"t"}}}]}
]}
]}
